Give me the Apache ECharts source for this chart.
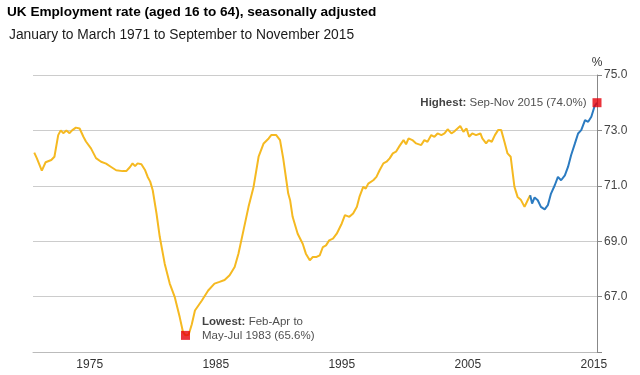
<!DOCTYPE html>
<html>
<head>
<meta charset="utf-8">
<script src="https://cdn.jsdelivr.net/npm/echarts@6/dist/echarts.min.js"></script>
<style>
html,body{margin:0;padding:0;background:#fff;}
#chart{width:640px;height:375px;}
</style>
</head>
<body>
<div id="chart"></div>
<script>
// 读图得到的数据（年份为三个月滚动期的中点）
var pastYears = [1971.1,1971.3,1971.7,1971.85,1972.0,1972.45,1972.7,1973.0,1973.2,1973.4,1973.65,1973.9,1974.1,1974.4,1974.7,1975.0,1975.2,1975.6,1976.0,1976.4,1976.8,1977.2,1977.6,1978.1,1978.4,1978.7,1978.9,1979.1,1979.3,1979.6,1979.9,1980.1,1980.3,1980.5,1980.8,1981.06,1981.45,1981.85,1982.25,1982.64,1982.9,1983.1,1983.35,1983.6,1983.85,1984.4,1984.9,1985.4,1985.8,1986.2,1986.6,1987.0,1987.3,1987.7,1988.1,1988.5,1988.9,1989.3,1989.7,1989.9,1990.3,1990.6,1990.85,1991.1,1991.25,1991.4,1991.6,1992.0,1992.4,1992.65,1992.96,1993.2,1993.5,1993.75,1994.0,1994.25,1994.5,1994.8,1995.1,1995.5,1995.75,1996.1,1996.4,1996.7,1996.9,1997.2,1997.4,1997.6,1998.0,1998.25,1998.5,1998.8,1999.05,1999.3,1999.55,1999.8,2000.1,2000.4,2000.6,2000.8,2001.1,2001.4,2001.8,2002.05,2002.3,2002.6,2002.85,2003.1,2003.4,2003.65,2003.9,2004.2,2004.4,2004.9,2005.15,2005.4,2005.6,2005.85,2006.15,2006.5,2006.65,2006.95,2007.15,2007.4,2007.65,2007.9,2008.15,2008.4,2008.65,2008.9,2009.05,2009.2,2009.45,2009.7,2010.0,2010.25,2010.45];
var pastRates = [72.2,72.0,71.55,71.5,71.85,71.93,72.05,72.83,73.0,72.9,73.0,72.9,73.0,73.1,73.07,72.77,72.6,72.35,72.0,71.87,71.8,71.68,71.56,71.53,71.53,71.68,71.81,71.71,71.81,71.78,71.56,71.32,71.15,70.84,70.0,69.15,68.19,67.47,66.98,66.26,65.72,65.6,65.62,66.0,66.5,66.86,67.22,67.47,67.53,67.6,67.77,68.07,68.55,69.39,70.24,70.96,72.05,72.53,72.71,72.83,72.83,72.65,72.0,71.2,70.72,70.48,69.88,69.27,68.91,68.55,68.31,68.43,68.43,68.49,68.79,68.85,69.03,69.09,69.27,69.64,69.94,69.88,70.0,70.24,70.6,70.96,70.9,71.08,71.2,71.32,71.56,71.81,71.87,71.99,72.17,72.23,72.45,72.65,72.5,72.71,72.65,72.53,72.47,72.65,72.59,72.83,72.77,72.89,72.83,72.89,73.04,72.89,72.95,73.16,72.95,73.07,72.77,72.89,72.83,72.89,72.71,72.53,72.65,72.59,72.83,73.01,73.01,72.6,72.17,72.05,71.5,70.96,70.6,70.5,70.24,70.48,70.66];
var recentYears = [2010.45,2010.6,2010.8,2011.05,2011.3,2011.6,2011.85,2012.1,2012.4,2012.65,2012.9,2013.2,2013.45,2013.7,2014.0,2014.25,2014.5,2014.8,2015.05,2015.3,2015.55,2015.75];
var recentRates = [70.66,70.36,70.58,70.48,70.24,70.15,70.3,70.72,71.02,71.32,71.2,71.38,71.68,72.11,72.53,72.89,73.01,73.37,73.31,73.49,73.86,74.0];
var lowest = [1983.1, 65.6];
var highest = [2015.75, 74.0];
var xTickYears = [1975, 1985, 1995, 2005, 2015];

function pairs(xs, ys) {
    return xs.map(function (x, i) { return [x, ys[i]]; });
}

var myChart = echarts.init(document.getElementById('chart'));
option = {
    animation: false,
    textStyle: { fontFamily: 'Liberation Sans, Arial, sans-serif' },
    title: [{
        text: 'UK Employment rate (aged 16 to 64), seasonally adjusted',
        left: 7, top: 5, padding: 0,
        textStyle: { fontSize: 13.6, fontWeight: 'bold', color: '#000' }
    }, {
        text: 'January to March 1971 to September to November 2015',
        left: 9, top: 28, padding: 0,
        textStyle: { fontSize: 13.8, fontWeight: 'normal', color: '#1a1a1a' }
    }],
    grid: { left: 33, right: 43, top: 75, bottom: 23, containLabel: false, outerBoundsMode: 'none' },
    xAxis: {
        type: 'value',
        min: 1971,
        max: 2015.75,
        axisLine: { lineStyle: { color: '#bbb' } },
        axisTick: { show: false },
        splitLine: { show: false },
        axisLabel: {
            customValues: xTickYears.map(function (y) { return y + 0.5; }),
            formatter: function (v) { return String(Math.floor(v)); },
            color: '#333', fontSize: 12, margin: 7
        }
    },
    yAxis: {
        type: 'value',
        position: 'right',
        min: 65, max: 75, interval: 2,
        name: '%',
        nameGap: 6,
        nameTextStyle: { color: '#333', fontSize: 12 },
        axisLine: { show: true, lineStyle: { color: '#888' } },
        axisTick: { show: true, length: 5, lineStyle: { color: '#888' } },
        splitLine: { lineStyle: { color: '#ccc' } },
        axisLabel: {
            formatter: function (v) { return v === 65 ? '' : v.toFixed(1); },
            color: '#444', fontSize: 12, margin: 7
        }
    },
    series: [
        {
            name: '1971-2010',
            type: 'line',
            showSymbol: false,
            lineStyle: { color: '#f5b921', width: 2 },
            data: pairs(pastYears, pastRates)
        },
        {
            name: '2010-2015',
            type: 'line',
            showSymbol: false,
            lineStyle: { color: '#2b7bc1', width: 2 },
            data: pairs(recentYears, recentRates)
        },
        {
            type: 'scatter',
            symbol: 'rect',
            symbolSize: 9,
            clip: false,
            z: 5,
            itemStyle: { color: '#e5000a' },
            label: {
                show: true,
                color: '#222',
                fontSize: 11.5,
                lineHeight: 14,
                rich: { b: { fontWeight: 'bold', color: '#111', fontSize: 11.5 } }
            },
            data: [
                {
                    value: lowest,
                    label: { position: 'right', distance: 12, offset: [0, -7],
                        formatter: '{b|Lowest:} Feb-Apr to\nMay-Jul 1983 (65.6%)' }
                },
                {
                    value: highest,
                    label: { position: 'left', distance: 6,
                        formatter: '{b|Highest:} Sep-Nov 2015 (74.0%)' }
                }
            ]
        }
    ]
};
myChart.setOption(option);
</script>
</body>
</html>
